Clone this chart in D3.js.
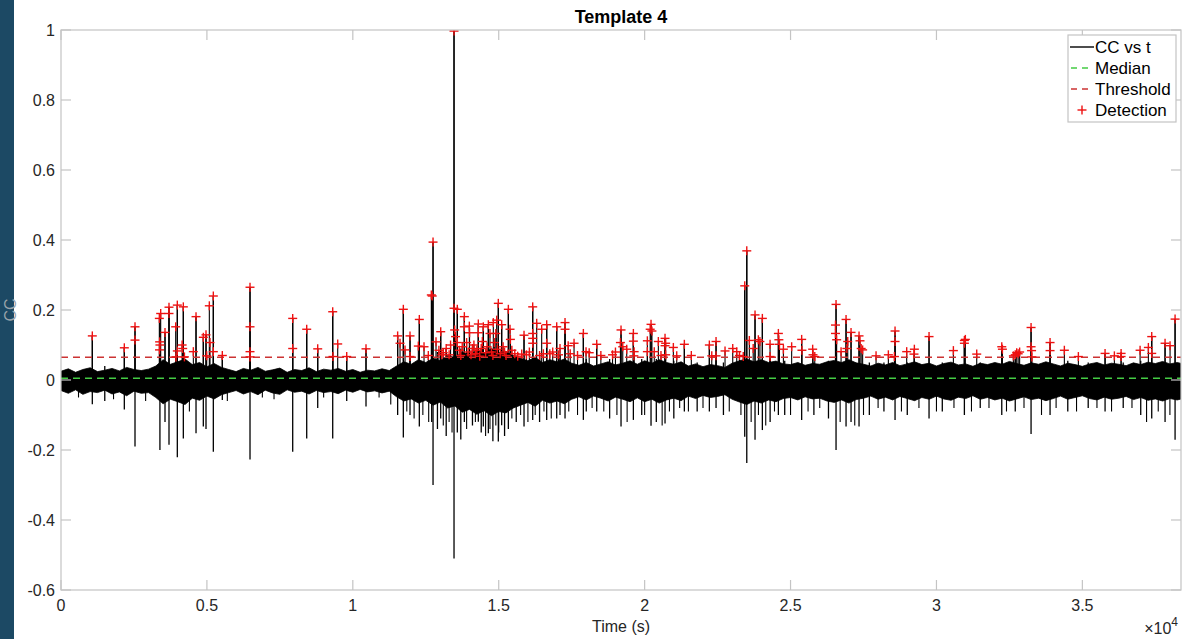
<!DOCTYPE html>
<html lang="en">
<head>
<meta charset="UTF-8">
<title>Template 4</title>
<script src="https://cdn.jsdelivr.net/npm/d3@7/dist/d3.min.js"></script>
<style>
    body { margin: 0; background: #fff; }
    svg { display: block; font-family: Helvetica, Arial, "Liberation Sans", sans-serif; }
    .tick-label { fill: #262626; font-size: 16px; }
</style>
</head>
<body>
<svg width="1184" height="639"></svg>
<script>
// ---- data ----
var xTicks = [0, 5000, 10000, 15000, 20000, 25000, 30000, 35000];
var yTicks = [-0.6, -0.4, -0.2, 0, 0.2, 0.4, 0.6, 0.8, 1];
var legendLabels = ['CC vs t', 'Median', 'Threshold', 'Detection'];

var medianCC = 0.005;
var thresholdCC = 0.065;

// envelope of the dense noise body, one sample every 250 s (0 .. 38500)
var envStep = 250;
var envHi = [
    0.025, 0.032, 0.022, 0.030, 0.035, 0.024, 0.028, 0.033, 0.026, 0.036, 0.030, 0.027,
    0.031, 0.040, 0.058, 0.045, 0.052, 0.060, 0.044, 0.050, 0.038, 0.047, 0.036,
    0.030, 0.024, 0.033, 0.028, 0.036, 0.025, 0.029, 0.034, 0.022, 0.030, 0.027, 0.035, 0.024, 0.031,
    0.028, 0.033, 0.025, 0.030, 0.022, 0.028, 0.026, 0.032, 0.027,
    0.040, 0.052, 0.045, 0.058, 0.050, 0.062, 0.055,
    0.070, 0.064, 0.080, 0.072, 0.085, 0.076, 0.090, 0.078, 0.082, 0.070,
    0.062, 0.055, 0.065, 0.050, 0.058, 0.052, 0.060, 0.048,
    0.042, 0.050, 0.040, 0.046, 0.052, 0.043, 0.048, 0.055, 0.045,
    0.055, 0.048, 0.058, 0.050, 0.045, 0.052,
    0.040, 0.046, 0.038, 0.044, 0.041, 0.036,
    0.048, 0.055, 0.060, 0.052, 0.058, 0.050, 0.054, 0.046,
    0.044, 0.050, 0.042, 0.047, 0.045, 0.052, 0.056, 0.050, 0.058, 0.049,
    0.045, 0.040, 0.048, 0.043, 0.050, 0.041, 0.046, 0.052, 0.044, 0.048, 0.040, 0.047, 0.051, 0.043,
    0.046, 0.039, 0.048, 0.044, 0.050, 0.045, 0.053, 0.047, 0.042, 0.049, 0.045, 0.052, 0.046, 0.040,
    0.048, 0.044, 0.039, 0.046, 0.050, 0.043, 0.048, 0.045, 0.041, 0.049, 0.044, 0.051, 0.047, 0.053,
    0.046, 0.050, 0.045];
var envLo = [
    -0.030, -0.038, -0.028, -0.041, -0.033, -0.036, -0.029, -0.040, -0.034, -0.045, -0.032, -0.038,
    -0.036, -0.050, -0.068, -0.055, -0.062, -0.070, -0.052, -0.058, -0.046, -0.054, -0.042,
    -0.036, -0.030, -0.040, -0.033, -0.042, -0.029, -0.037, -0.041, -0.028, -0.035, -0.032, -0.040,
    -0.030, -0.036, -0.033, -0.039, -0.029, -0.035, -0.027, -0.034, -0.031, -0.037, -0.032,
    -0.048, -0.060, -0.054, -0.066, -0.058, -0.072, -0.063,
    -0.080, -0.074, -0.092, -0.084, -0.098, -0.088, -0.102, -0.090, -0.094, -0.080,
    -0.072, -0.064, -0.075, -0.058, -0.066, -0.060, -0.068, -0.055,
    -0.048, -0.057, -0.046, -0.052, -0.060, -0.049, -0.055, -0.062, -0.051,
    -0.062, -0.055, -0.066, -0.057, -0.052, -0.059,
    -0.046, -0.053, -0.044, -0.050, -0.047, -0.042,
    -0.055, -0.063, -0.070, -0.060, -0.066, -0.057, -0.062, -0.053,
    -0.050, -0.057, -0.048, -0.054, -0.052, -0.060, -0.064, -0.057, -0.066, -0.056,
    -0.052, -0.046, -0.055, -0.049, -0.057, -0.047, -0.053, -0.059, -0.050, -0.055, -0.046, -0.054,
    -0.058, -0.049, -0.053, -0.045, -0.055, -0.050, -0.057, -0.052, -0.060, -0.054, -0.048, -0.056,
    -0.052, -0.059, -0.053, -0.046, -0.055, -0.050, -0.045, -0.053, -0.057, -0.049, -0.055, -0.052,
    -0.047, -0.056, -0.050, -0.058, -0.054, -0.060, -0.053, -0.057, -0.052];

// individual spikes of the trace: time, peak, trough
var spikeT = [1073, 1500, 2170, 2536, 3390, 3564, 3701, 3986, 4192, 4627, 4877, 4969, 5220, 5528, 6477,
    7940, 8420, 8797, 9311, 9791, 10452, 11536, 11731, 11960, 12279, 12703, 12749, 12900, 13012, 13200,
    13468, 13581, 13700, 13822, 14100, 14301, 14400, 14472, 14644, 14800, 14986, 15101, 15200, 15330,
    15600, 15867, 16164, 16400, 16644, 16987, 17100, 17272, 17900, 18000, 18358, 18800, 19191, 19614,
    19900, 20219, 20400, 20699, 21000, 21361, 21800, 22218, 22447, 22700, 23430, 23500, 23783, 24034,
    24300, 24583, 24800, 25381, 25800, 26300, 26559, 26902, 27073, 27347, 27700, 28200, 28581, 29000,
    29746, 30200, 30957, 31500, 32238, 32700, 33242, 33893, 34500, 35200, 35778, 36400, 37000, 37377,
    37834, 38177];
var spikeHi = [0.126, 0.040, 0.092, 0.152, 0.190, 0.136, 0.208, 0.214, 0.209, 0.181, 0.122, 0.129, 0.240,
    0.070, 0.265, 0.176, 0.145, 0.089, 0.195, 0.067, 0.089, 0.126, 0.202, 0.126, 0.173, 0.243, 0.394,
    0.080, 0.138, 0.090, 0.997, 0.202, 0.090, 0.181, 0.095, 0.160, 0.090, 0.152, 0.158, 0.085, 0.219,
    0.158, 0.080, 0.202, 0.070, 0.128, 0.209, 0.070, 0.158, 0.152, 0.072, 0.164, 0.133, 0.060, 0.102,
    0.060, 0.143, 0.133, 0.060, 0.159, 0.060, 0.119, 0.055, 0.102, 0.050, 0.100, 0.110, 0.050, 0.269,
    0.369, 0.186, 0.176, 0.060, 0.133, 0.055, 0.116, 0.050, 0.055, 0.216, 0.173, 0.136, 0.126, 0.050,
    0.050, 0.140, 0.050, 0.124, 0.050, 0.116, 0.050, 0.095, 0.060, 0.150, 0.107, 0.055, 0.050, 0.076,
    0.050, 0.055, 0.124, 0.105, 0.174];
var spikeLo = [-0.069, -0.060, -0.084, -0.190, -0.200, -0.120, -0.185, -0.221, -0.167, -0.152, -0.133,
    -0.140, -0.205, -0.057, -0.227, -0.205, -0.167, -0.080, -0.167, -0.060, -0.076, -0.100, -0.164,
    -0.100, -0.133, -0.120, -0.300, -0.140, -0.110, -0.160, -0.510, -0.150, -0.170, -0.120, -0.130,
    -0.119, -0.150, -0.133, -0.152, -0.175, -0.176, -0.129, -0.160, -0.140, -0.120, -0.133, -0.114,
    -0.120, -0.114, -0.110, -0.100, -0.110, -0.114, -0.090, -0.090, -0.110, -0.133, -0.114, -0.100,
    -0.131, -0.120, -0.124, -0.110, -0.090, -0.090, -0.090, -0.080, -0.100, -0.162, -0.237, -0.171,
    -0.143, -0.120, -0.100, -0.100, -0.114, -0.100, -0.110, -0.200, -0.133, -0.120, -0.133, -0.100,
    -0.090, -0.114, -0.100, -0.110, -0.090, -0.100, -0.080, -0.100, -0.090, -0.154, -0.100, -0.090,
    -0.080, -0.090, -0.080, -0.100, -0.110, -0.120, -0.171];

// smaller downward excursions below the noise body
var minorT = [600, 1800, 2900, 4400, 5700, 6900, 7300, 9000, 10900, 11300, 11850, 12100, 12400, 12600,
    13100, 13300, 13400, 13900, 14200, 14550, 14700, 14900, 15000, 15450, 15750, 16000, 16250, 16550,
    16800, 17400, 17700, 18200, 18600, 19050, 19400, 20000, 20600, 20850, 21200, 21500, 22000, 22900,
    23300, 23650, 23900, 24150, 24450, 25000, 25600, 26000, 26700, 27200, 27500, 28000, 28800, 29400,
    30000, 30600, 31200, 31800, 32400, 33000, 33600, 34100, 34800, 35500, 36000, 36700, 37200, 37600,
    38000];
var minorLo = [-0.050, -0.055, -0.060, -0.090, -0.060, -0.050, -0.055, -0.050, -0.050, -0.070, -0.090,
    -0.110, -0.100, -0.120, -0.130, -0.120, -0.150, -0.140, -0.120, -0.160, -0.140, -0.130, -0.150,
    -0.110, -0.100, -0.120, -0.100, -0.090, -0.110, -0.090, -0.100, -0.080, -0.090, -0.100, -0.120,
    -0.100, -0.130, -0.090, -0.080, -0.090, -0.080, -0.090, -0.100, -0.120, -0.100, -0.130, -0.090,
    -0.100, -0.090, -0.080, -0.120, -0.130, -0.100, -0.080, -0.090, -0.080, -0.090, -0.080, -0.090,
    -0.080, -0.090, -0.080, -0.100, -0.080, -0.090, -0.080, -0.090, -0.080, -0.120, -0.090, -0.100];

// detections (red +)
var detT = [1073, 2170, 2536, 2536, 3370, 3416, 3380, 3390, 3375, 3564, 3701, 3701, 3930, 3986, 4192,
    4150, 4170, 3986, 3940, 4230, 4627, 4535, 4877, 4969, 5106, 5083, 5220, 5220, 4993, 5528, 6477, 6477,
    6477, 6477, 7940, 7940, 8420, 8797, 9311, 9482, 9320, 9791, 10452, 11536, 11618, 11731, 11789, 11960,
    11960, 12245, 12279, 12440, 12587, 12690, 12720, 12749, 12851, 13012, 13047, 13468, 13468, 13581,
    13490, 13520, 13581, 13822, 13822, 13993, 14000, 13900, 14301, 14301, 14472, 14440, 14644, 14700,
    14815, 14930, 14986, 15101, 14900, 14850, 15330, 15387, 15400, 15788, 15867, 16164, 16164, 16164,
    16164, 16301, 16472, 16644, 16644, 16530, 16987, 17272, 17272, 17100, 17380, 17581, 17900, 17992,
    18358, 19191, 19170, 19250, 19386, 19614, 19614, 19640, 19630,
    12950, 13100, 13200, 13300, 13350, 13650, 13700, 13750, 13950, 14050, 14100, 14150, 14200, 14250,
    14350, 14400, 14550, 14600, 14750, 14800, 14950, 15050, 15150, 15200, 15250, 15450, 15550, 15650,
    15950, 16050, 16400, 16750, 16850, 17050, 17450, 17700, 18100, 18500, 18900, 19000,
    20093, 20093, 20219, 20190, 20250, 20330, 20470, 20560, 20699, 20720, 20699, 20720, 20984, 21100,
    21361, 21600, 22218, 22300, 22447, 22447, 22755, 23019, 23156, 23250, 23430, 23500, 23380, 23588,
    23783, 23720, 23897, 23950, 24034, 24298, 24298, 24583, 24600, 24620, 24755, 25038, 25381, 25390,
    25758, 25770, 25830, 26559, 26540, 26540, 26580, 26731, 26902, 26960, 26930, 27073, 27347, 27380,
    27420, 27470, 27930, 28352, 28581, 28581, 28560, 28980, 29243, 29230, 29746,
    30580, 30957, 30990, 30957, 31380, 32238, 32260, 32636, 32750, 32800, 32850, 32700, 33242, 33242,
    33260, 33270, 33893, 33893, 34383, 34863, 35778, 36097, 36327, 36327, 36978, 37262, 37377, 37377,
    37834, 38005, 38177];
var detCC = [0.126, 0.092, 0.152, 0.114, 0.176, 0.190, 0.109, 0.100, 0.086, 0.136, 0.208, 0.190, 0.152,
    0.214, 0.209, 0.100, 0.090, 0.083, 0.066, 0.066, 0.181, 0.081, 0.122, 0.129, 0.107, 0.212, 0.240,
    0.081, 0.069, 0.070, 0.265, 0.152, 0.081, 0.066, 0.176, 0.090, 0.145, 0.089, 0.195, 0.103, 0.067,
    0.067, 0.089, 0.126, 0.105, 0.202, 0.086, 0.126, 0.067, 0.097, 0.173, 0.095, 0.070, 0.243, 0.240,
    0.394, 0.109, 0.138, 0.072, 0.997, 0.205, 0.202, 0.143, 0.124, 0.107, 0.181, 0.152, 0.154, 0.135,
    0.107, 0.160, 0.135, 0.152, 0.110, 0.158, 0.133, 0.164, 0.171, 0.219, 0.158, 0.133, 0.107, 0.202,
    0.145, 0.116, 0.074, 0.128, 0.209, 0.133, 0.119, 0.105, 0.162, 0.145, 0.158, 0.105, 0.075, 0.152,
    0.164, 0.145, 0.090, 0.098, 0.105, 0.133, 0.081, 0.102, 0.143, 0.107, 0.095, 0.088, 0.133, 0.111,
    0.081, 0.069,
    0.085, 0.078, 0.090, 0.072, 0.100, 0.085, 0.070, 0.095, 0.080, 0.072, 0.090, 0.100, 0.075, 0.085,
    0.068, 0.090, 0.078, 0.095, 0.080, 0.070, 0.088, 0.075, 0.095, 0.080, 0.070, 0.085, 0.075, 0.068,
    0.072, 0.080, 0.070, 0.075, 0.080, 0.072, 0.075, 0.070, 0.078, 0.070, 0.072, 0.080,
    0.112, 0.081, 0.159, 0.145, 0.140, 0.081, 0.110, 0.070, 0.119, 0.105, 0.098, 0.072, 0.093, 0.069,
    0.102, 0.070, 0.100, 0.069, 0.110, 0.069, 0.083, 0.090, 0.081, 0.070, 0.269, 0.369, 0.067, 0.113,
    0.186, 0.090, 0.115, 0.110, 0.176, 0.102, 0.067, 0.133, 0.115, 0.102, 0.088, 0.095, 0.116, 0.085,
    0.088, 0.072, 0.067, 0.216, 0.157, 0.133, 0.115, 0.081, 0.173, 0.110, 0.090, 0.136, 0.126, 0.112,
    0.090, 0.086, 0.069, 0.072, 0.140, 0.110, 0.067, 0.081, 0.088, 0.074, 0.124,
    0.084, 0.113, 0.116, 0.105, 0.074, 0.095, 0.088, 0.069, 0.078, 0.075, 0.080, 0.072, 0.150, 0.095,
    0.084, 0.066, 0.107, 0.084, 0.085, 0.067, 0.076, 0.069, 0.076, 0.067, 0.085, 0.093, 0.124, 0.076,
    0.105, 0.098, 0.174];

// ---- layout ----
var svg = d3.select('svg'),
    plot = { left: 61, right: 1181, top: 30, bottom: 590 },
    axisColor = '#c4c4c4',
    tickLen = 10;

var xScale = d3.scaleLinear().domain([0, 38380]).range([plot.left, plot.right]),
    yScale = d3.scaleLinear().domain([-0.6, 1]).range([plot.bottom, plot.top]);

// dark strip on the left edge
svg.append('rect').attr('x', 0).attr('y', 0).attr('width', 14).attr('height', 639).attr('fill', '#1c4964');

svg.append('defs').append('clipPath').attr('id', 'clip')
    .append('rect')
    .attr('x', plot.left).attr('y', plot.top)
    .attr('width', plot.right - plot.left).attr('height', plot.bottom - plot.top);

var dataG = svg.append('g').attr('clip-path', 'url(#clip)');

// noise body
var env = envHi.map(function(h, i) { return { t: i * envStep, hi: h, lo: envLo[i] }; });
dataG.append('path')
    .datum(env)
    .attr('fill', '#000')
    .attr('stroke', '#000')
    .attr('stroke-width', 0.8)
    .attr('d', d3.area()
        .x(function(d) { return xScale(d.t); })
        .y0(function(d) { return yScale(d.lo); })
        .y1(function(d) { return yScale(d.hi); }));

var vline = function(sel, hi, lo, w) {
    sel.append('line')
        .attr('x1', function(d) { return xScale(d.t); })
        .attr('x2', function(d) { return xScale(d.t); })
        .attr('y1', function(d) { return yScale(lo(d)); })
        .attr('y2', function(d) { return yScale(hi(d)); })
        .attr('stroke', '#000')
        .attr('stroke-width', w);
};

// spikes
var spikes = spikeT.map(function(t, i) { return { t: t, hi: spikeHi[i], lo: spikeLo[i] }; });
dataG.selectAll('g.spike').data(spikes).enter().append('g').attr('class', 'spike')
    .call(vline, function(d) { return d.hi; }, function(d) { return d.lo; }, 1.3);

var minors = minorT.map(function(t, i) { return { t: t, lo: minorLo[i] }; });
dataG.selectAll('g.minor').data(minors).enter().append('g').attr('class', 'minor')
    .call(vline, function(d) { return 0; }, function(d) { return d.lo; }, 1.1);

// trace reaching each detection
var dets = detT.map(function(t, i) { return { t: t, cc: detCC[i] }; });
dataG.selectAll('g.det').data(dets).enter().append('g').attr('class', 'det')
    .call(vline, function(d) { return d.cc; }, function(d) { return 0; }, 1.1);

// median and threshold
dataG.append('line')
    .attr('x1', plot.left).attr('x2', plot.right)
    .attr('y1', yScale(medianCC)).attr('y2', yScale(medianCC))
    .attr('stroke', '#44cc44').attr('stroke-width', 1.7).attr('stroke-dasharray', '7,5');
dataG.append('line')
    .attr('x1', plot.left).attr('x2', plot.right)
    .attr('y1', yScale(thresholdCC)).attr('y2', yScale(thresholdCC))
    .attr('stroke', '#cc3333').attr('stroke-width', 1.5).attr('stroke-dasharray', '7,5');

// detection markers
var plus = function(sel, size) {
    sel.append('line').attr('x1', -size).attr('x2', size).attr('y1', 0).attr('y2', 0);
    sel.append('line').attr('x1', 0).attr('x2', 0).attr('y1', -size).attr('y2', size);
};
dataG.selectAll('g.mark')
    .data(dets)
    .enter().append('g')
    .attr('class', 'mark')
    .attr('transform', function(d) { return 'translate(' + [xScale(d.t), yScale(d.cc)] + ')'; })
    .attr('stroke', '#ee1111')
    .attr('stroke-width', 1.4)
    .call(plus, 4.5);

// ---- axes box ----
var axG = svg.append('g').attr('stroke', axisColor).attr('stroke-width', 1.2).attr('fill', 'none');
axG.append('rect')
    .attr('x', plot.left).attr('y', plot.top)
    .attr('width', plot.right - plot.left).attr('height', plot.bottom - plot.top);

xTicks.forEach(function(v) {
    var x = xScale(v);
    axG.append('line').attr('x1', x).attr('x2', x).attr('y1', plot.bottom).attr('y2', plot.bottom - tickLen);
    axG.append('line').attr('x1', x).attr('x2', x).attr('y1', plot.top).attr('y2', plot.top + tickLen);
});
yTicks.forEach(function(v) {
    var y = yScale(v);
    axG.append('line').attr('x1', plot.left).attr('x2', plot.left + tickLen).attr('y1', y).attr('y2', y);
    axG.append('line').attr('x1', plot.right).attr('x2', plot.right - tickLen).attr('y1', y).attr('y2', y);
});

svg.selectAll('text.xt')
    .data(xTicks)
    .enter().append('text')
    .attr('class', 'tick-label')
    .attr('x', function(d) { return xScale(d); })
    .attr('y', 611)
    .attr('text-anchor', 'middle')
    .text(function(d) { return String(d / 1e4); });

svg.selectAll('text.yt')
    .data(yTicks)
    .enter().append('text')
    .attr('class', 'tick-label')
    .attr('x', 55)
    .attr('y', function(d) { return yScale(d) + 6; })
    .attr('text-anchor', 'end')
    .text(function(d) { return String(+d.toFixed(1)); });

// titles
svg.append('text')
    .attr('x', (plot.left + plot.right) / 2).attr('y', 23)
    .attr('text-anchor', 'middle')
    .attr('font-size', 18).attr('font-weight', 'bold').attr('fill', '#000')
    .text('Template 4');

svg.append('text')
    .attr('x', (plot.left + plot.right) / 2).attr('y', 632)
    .attr('text-anchor', 'middle')
    .attr('font-size', 16).attr('fill', '#262626')
    .text('Time (s)');

svg.append('text')
    .attr('transform', 'translate(16,' + yScale(0.2) + ') rotate(-90)')
    .attr('text-anchor', 'middle')
    .attr('font-size', 16).attr('fill', '#9aa4ab')
    .text('CC');

var expo = svg.append('text')
    .attr('x', 1178).attr('y', 634)
    .attr('text-anchor', 'end')
    .attr('font-size', 16).attr('fill', '#262626');
expo.append('tspan').text('\u00d710');
expo.append('tspan').attr('dy', -8).attr('font-size', 12).text('4');

// ---- legend ----
var leg = svg.append('g').attr('transform', 'translate(1068,35)');
leg.append('rect')
    .attr('width', 108).attr('height', 87)
    .attr('fill', '#fff').attr('stroke', axisColor).attr('stroke-width', 1.2);

var legRows = leg.selectAll('g.row')
    .data(legendLabels)
    .enter().append('g')
    .attr('class', 'row')
    .attr('transform', function(d, i) { return 'translate(0,' + (12 + i * 21) + ')'; });

legRows.append('text')
    .attr('x', 27).attr('y', 6)
    .attr('font-size', 17).attr('fill', '#000')
    .text(function(d) { return d; });

legRows.filter(function(d, i) { return i === 0; }).append('line')
    .attr('x1', 2).attr('x2', 26).attr('y1', 0).attr('y2', 0)
    .attr('stroke', '#000').attr('stroke-width', 1.4);
legRows.filter(function(d, i) { return i === 1; }).append('line')
    .attr('x1', 3).attr('x2', 25).attr('y1', 0).attr('y2', 0)
    .attr('stroke', '#44cc44').attr('stroke-width', 1.7).attr('stroke-dasharray', '6,5');
legRows.filter(function(d, i) { return i === 2; }).append('line')
    .attr('x1', 3).attr('x2', 25).attr('y1', 0).attr('y2', 0)
    .attr('stroke', '#cc3333').attr('stroke-width', 1.5).attr('stroke-dasharray', '6,5');
legRows.filter(function(d, i) { return i === 3; }).append('g')
    .attr('transform', 'translate(14,0)')
    .attr('stroke', '#ee1111').attr('stroke-width', 1.4)
    .call(plus, 4.5);
</script>
</body>
</html>
